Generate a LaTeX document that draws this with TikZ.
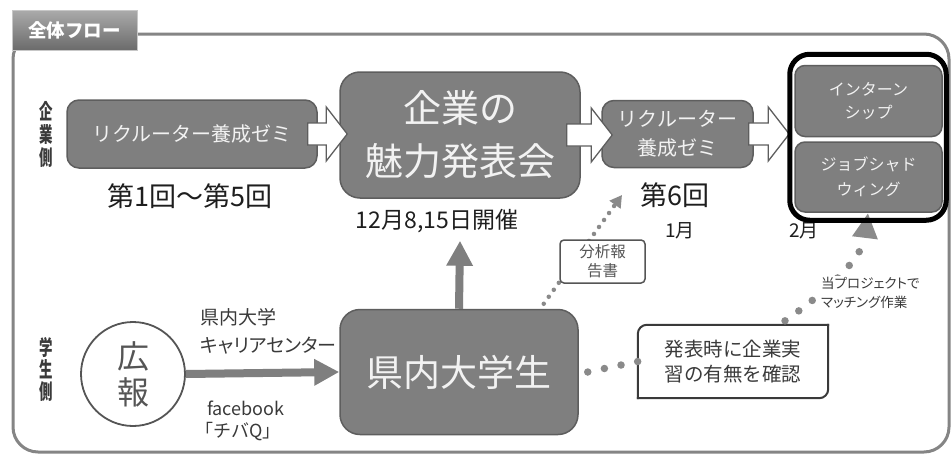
\documentclass[tikz,border=0pt]{standalone}
\usepackage{fontspec}
\usetikzlibrary{arrows.meta,calc}
\newfontfamily\jp{Noto Sans CJK JP}
\newfontfamily\jpp[RawFeature=+palt]{Noto Sans CJK JP}
\definecolor{boxfill}{HTML}{7F7F7F}
\definecolor{boxline}{HTML}{5E5E5E}
\definecolor{boxtext}{HTML}{F2F2F2}
\definecolor{framegray}{HTML}{858585}
\definecolor{darktext}{HTML}{1E1E1E}
\definecolor{midtext}{HTML}{3A3A3A}
\definecolor{softtext}{HTML}{555555}
\definecolor{dotgray}{HTML}{8A8A8A}
\newcommand\fs[2]{\fontsize{#1}{#2}\selectfont}
\newcommand\blockarrow[2]{%
  \draw[harrow] let \p1=(#1), \p2=(#2) in
    (\x1,{\y1+11pt}) -- ({\x2-21pt},{\y1+11pt}) -- ({\x2-21pt},{\y1+27pt})
    -- (\x2,\y1) -- ({\x2-21pt},{\y1-27pt}) -- ({\x2-21pt},{\y1-11pt})
    -- (\x1,{\y1-11pt}) -- cycle;}
\begin{document}
\begin{tikzpicture}[x=1pt,y=-1pt,
  darkbox/.style={draw=boxline,fill=boxfill,line width=1.5pt,rounded corners=12pt,
    text=boxtext,align=center,inner sep=0pt},
  harrow/.style={draw=boxline,fill=white,line width=1.3pt,line join=miter},
  garrow/.style={draw=boxfill,line width=8pt,-{Triangle[length=25pt,width=25pt]}},
  lbl/.style={align=center,inner sep=0pt},
  bigdots/.style={draw=dotgray,line width=7.5pt,line cap=round,dash pattern=on 0pt off 17pt},
  smalldots/.style={draw=dotgray,line width=4.5pt,line cap=round,dash pattern=on 0pt off 8.6pt},
  whitebox/.style={fill=white,align=center,inner sep=0pt},
  srclbl/.style={anchor=west,inner sep=0pt,text=midtext}
]
\useasboundingbox (0,0) rectangle (951,455);
\fill[white] (0,0) rectangle (951,455);

% outer frame
\draw[framegray,line width=3pt,rounded corners=25pt] (13,34) rectangle (949,452);

% title tab
\node[top color=black!33,bottom color=black!58,draw=black!22,line width=0.8pt,
  minimum width=125pt,minimum height=40pt,inner sep=0pt,text=white,
  font=\jp\bfseries\fs{18.5}{20}] (tab) at (74.5,30) {全体フロー};

% side labels
\node[lbl,xscale=0.64,text=midtext,font=\jp\bfseries\fs{21}{23}] (sideA) at (46,134) {企\\業\\側};
\node[lbl,xscale=0.64,text=midtext,font=\jp\bfseries\fs{21}{22}] (sideB) at (46,369) {学\\生\\側};

% company row
\node[darkbox,minimum width=250pt,minimum height=68pt,font=\jp\fs{20}{24}] (b1) at (192,134) {リクルーター養成ゼミ};
\node[darkbox,rounded corners=20pt,minimum width=240pt,minimum height=126pt,font=\jp\fs{38}{53}] (b2) at (460,135) {企業の\\魅力発表会};
\node[darkbox,minimum width=151pt,minimum height=67pt,font=\jp\fs{20}{29}] (b3) at (677.5,134) {リクルーター\\養成ゼミ};
\node[darkbox,rounded corners=10pt,minimum width=147pt,minimum height=71pt,font=\jp\fs{16}{23}] (b4) at (868.5,101) {インターン\\シップ};
\node[darkbox,rounded corners=10pt,minimum width=147pt,minimum height=70pt,font=\jp\fs{16}{25}] (b5) at (868.5,177) {ジョブシャド\\ウィング};

\blockarrow{[xshift=-10pt]b1.east}{[xshift=8pt]b2.west}
\blockarrow{[xshift=-14pt]b2.east}{[xshift=11pt]b3.west}
\blockarrow{[xshift=-5pt]b3.east}{[xshift=-5pt]b4.west}

% captions
\node[lbl,text=darktext,font=\jp\fs{27}{30}] (c1) at (190,196) {第1回～第5回};
\node[lbl,text=darktext,font=\jp\fs{23}{26}] (c2) at (437,221) {12月8,15日開催};
\node[lbl,text=darktext,font=\jp\fs{27}{30}] (c3) at (675,195) {第6回};
\node[lbl,text=darktext,font=\jp\fs{19}{22}] (m1) at (680,231) {1月};
\node[lbl,text=darktext,font=\jp\fs{19}{22}] (m2) at (804,231) {2月};

% student row
\node[darkbox,rounded corners=20pt,minimum width=238pt,minimum height=125pt,font=\jp\fs{37}{40}] (s) at (459,372) {県内大学生};
\node[circle,draw=softtext,line width=1.8pt,minimum size=104pt,inner sep=0pt,
  align=center,text=softtext,font=\jp\fs{32}{36}] (kh) at (133,374) {広\\報};
\draw[garrow] (kh.east) -- (s.west);
\draw[garrow] (s.north) -- ([yshift=-42pt]b2.south);

\node[srclbl,align=left,font=\jpp\fs{19}{28}] (src1) at (200,331) {県内大学\\キャリアセンター};
\node[srclbl,font=\jp\fs{18}{25}] (src2) at (207,408) {facebook};
\node[srclbl,font=\jp\fs{18}{25}] (src3) at (195,432) {「チバQ」};

% analysis report
\coordinate (anEnd) at (622,195);
\draw[smalldots,-{Triangle[length=12pt,width=13pt]}] ([xshift=-35pt,yshift=5pt]s.north east) -- (anEnd);
\node[whitebox,draw=softtext,line width=1.5pt,rounded corners=4pt,minimum width=85pt,minimum height=43pt,
  text=softtext,font=\jpp\fs{15.5}{19}] (an) at (602.5,261.5) {分析報\\告書};

% check box
\node[fill=white,minimum width=190pt,minimum height=73pt,inner sep=0pt,align=center,
  text=midtext,font=\jp\fs{19.5}{25}] (ck) at (733,361.5) {発表時に企業実\\習の有無を確認};
\draw[midtext,line width=2pt,line cap=rect,rounded corners=9pt] (ck.south west) -- (ck.north west) -- (ck.north east);
\draw[midtext,line width=2pt,line cap=rect,rounded corners=9pt] (ck.north east) -- (ck.south east) -- (ck.south west);
\draw[bigdots] ([xshift=9pt]s.east) -- (ck.west);

% matching
\coordinate (mEnd) at (868,213);
\draw[bigdots,-{Triangle[length=25pt,width=24pt]}]
  ([xshift=52pt,yshift=4pt]ck.north) .. controls (815,300) and (862,262) .. (mEnd);
\node[anchor=west,align=left,fill=white,inner sep=1pt,text=midtext,font=\jpp\fs{13.5}{19}] (match) at (820,292.5) {当プロジェクトで\\マッチング作業};

% highlight frame
\draw[black,line width=5pt,rounded corners=20pt]
  ($(b4.north west)+(-4.5,-10.5)$) rectangle ($(b5.south east)+(3.5,7.5)$);
\end{tikzpicture}
\end{document}
